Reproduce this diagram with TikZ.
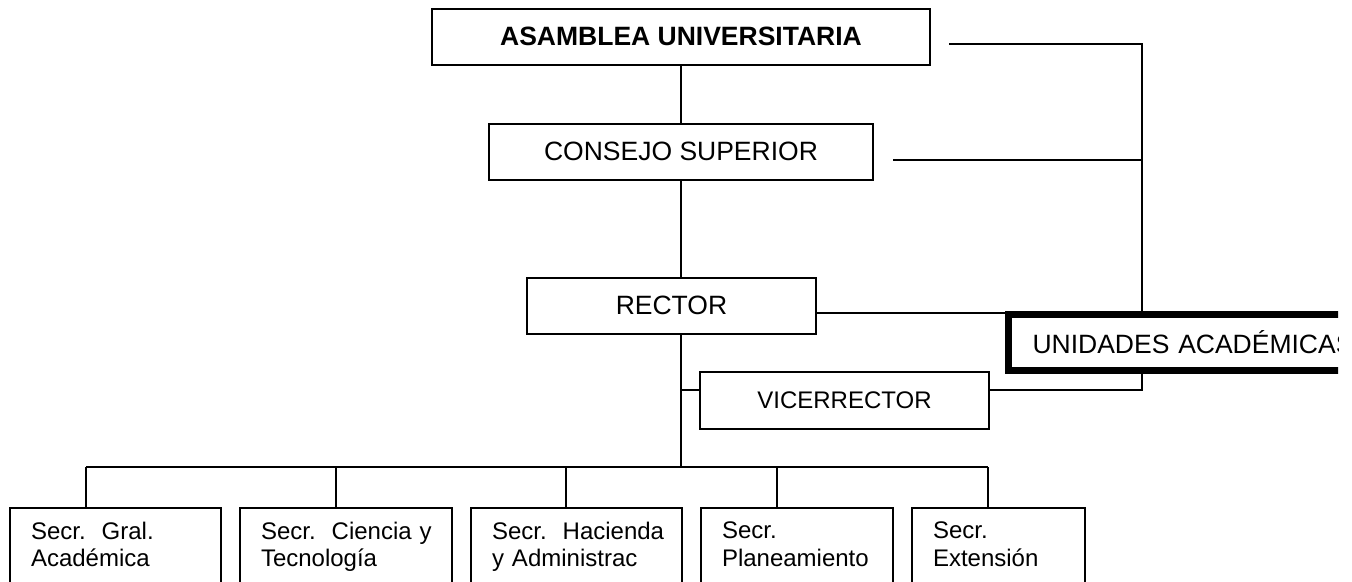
\documentclass[tikz,border=0pt]{standalone}
\usepackage{fontspec}
\setmainfont{Liberation Sans}
\usetikzlibrary{positioning,calc}
\tikzset{
	organo/.style = {
			draw,
			line width = 2pt,
			inner sep  = 0pt,
			font       = \fontsize{26.5}{31}\selectfont,
		},
	secr/.style = {
			draw,
			line width = 2pt,
			anchor     = north west,
			align      = left,
			inner xsep = 21pt,
			inner ysep = 14pt,
			text depth = 70pt,
			font       = \fontsize{24}{27.5}\selectfont,
		},
	wire/.style = {draw=black, line width=2pt},
}

\begin{document}
\begin{tikzpicture}[x=1pt,y=-1pt]
			\useasboundingbox (0,0) rectangle (1352,581);
			\clip (0,0) rectangle (1338,581);
			% Organos de gobierno
			\node[organo, minimum width=498pt, minimum height=56pt,
				font=\bfseries\fontsize{26.5}{31}\selectfont] (Asamblea) at (681,36.5)
			{ASAMBLEA UNIVERSITARIA};
			\node[organo, minimum width=384pt, minimum height=56pt] (Consejo) at (681,151.5)
			{CONSEJO SUPERIOR};
			\node[organo, minimum width=289pt, minimum height=56pt] (Rector) at (671.5,305.5)
			{RECTOR};
			\node[organo, minimum width=289pt, minimum height=57pt,
				font=\fontsize{24}{28}\selectfont] (Vicerrector) at (844.5,400)
			{VICERRECTOR};
			\node[draw, line width=7pt, anchor=west, text width=380pt, align=left,
				inner xsep=24pt, inner ysep=0pt, minimum height=56pt,
				font=\fontsize{26.5}{31}\selectfont] (Unidades) at (1005,342)
			{UNIDADES ACADÉMICAS};

			% Secretarias
			\node[secr, text width=169pt] (Gral) at (9,507)
			{\mbox{Secr.\ \ Gral.}\\\mbox{Académica}};
			\node[secr, text width=170pt] (Ciencia) at (239,507)
			{\mbox{Secr.\ \ Ciencia y}\\\mbox{Tecnología}};
			\node[secr, text width=169pt] (Hacienda) at (470,507)
			{\mbox{Secr.\ \ Hacienda}\\\mbox{y Administrac}};
			\node[secr, text width=150pt] (Planeamiento) at (700,507)
			{\mbox{Secr.}\\\mbox{Planeamiento}};
			\node[secr, text width=131pt] (Extension) at (911,507)
			{\mbox{Secr.}\\\mbox{Extensión}};

			\coordinate (Joint1) at (949,44);
			\coordinate (Joint2) at (1142,44);
			\coordinate (Joint3) at (893,160);
			\coordinate (Joint4) at (1142,160);
			\coordinate (Joint5) at (1142,390);
			\coordinate (Joint6) at (681,390);
			\coordinate (Joint7) at (681,467);
			\coordinate (Joint8) at (86,467);
			\coordinate (Joint9) at (336,467);
			\coordinate (Joint10) at (566,467);
			\coordinate (Joint11) at (777,467);
			\coordinate (Joint12) at (988,467);

			\draw[wire] (Asamblea) to (Consejo);
			\draw[wire] (Consejo.south) to (Consejo.south |- Rector.north);
			\draw[wire] (Consejo.south |- Rector.south) to (Joint7);
			\draw[wire] (Joint6) to (Joint6 -| Vicerrector.west);
			\draw[wire] (Joint1) to (Joint2) to (Joint2 |- Unidades.north);
			\draw[wire] (Joint3) to (Joint4);
			\draw[wire] (Rector.east |- 0,313) to (Unidades.west |- 0,313);
			\draw[wire] (Joint5 |- Unidades.south) to (Joint5) to (Joint5 -| Vicerrector.east);
			\draw[wire] (Joint8) to (Joint12);
			\draw[wire] (Joint8) to (Joint8 |- Gral.north);
			\draw[wire] (Joint9) to (Joint9 |- Ciencia.north);
			\draw[wire] (Joint10) to (Joint10 |- Hacienda.north);
			\draw[wire] (Joint11) to (Joint11 |- Planeamiento.north);
			\draw[wire] (Joint12) to (Joint12 |- Extension.north);
		\end{tikzpicture}
\end{document}
